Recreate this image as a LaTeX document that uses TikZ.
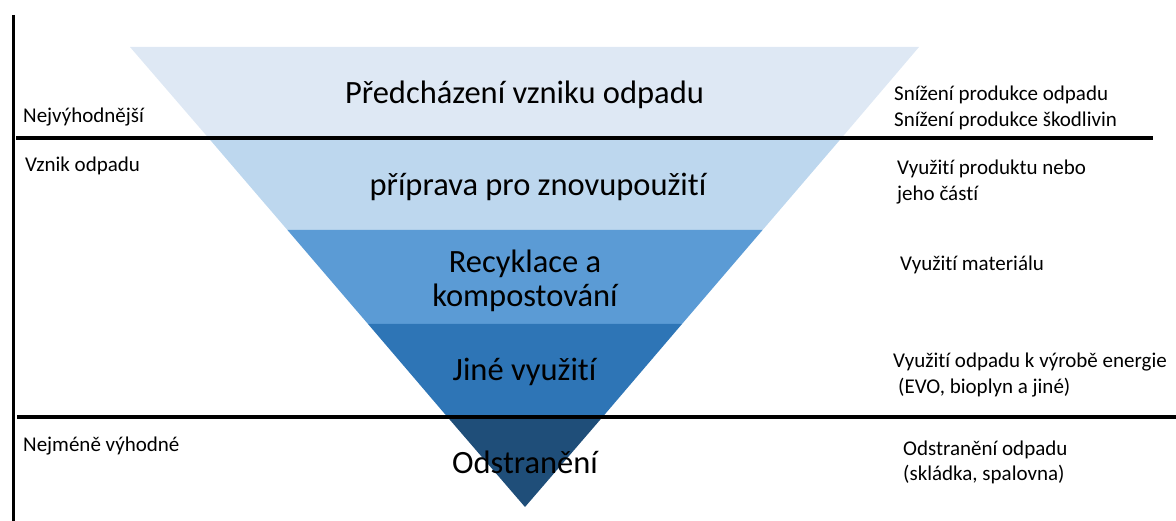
\documentclass[tikz,border=0pt]{standalone}
\usepackage{fontspec}
\setmainfont{Carlito}[Ligatures={NoCommon}]
\definecolor{bandA}{HTML}{DEE8F4}
\definecolor{bandB}{HTML}{BDD7EE}
\definecolor{bandC}{HTML}{5B9BD5}
\definecolor{bandD}{HTML}{2E75B6}
\definecolor{bandE}{HTML}{1F4E79}
\begin{document}
\begin{tikzpicture}[x=1pt,y=-1pt,
  mainlabel/.style={font=\fontsize{32.5}{36}\selectfont, align=center, inner sep=0pt},
  sidelabel/.style={font=\fontsize{21}{25.5}\selectfont, align=left, anchor=base west, inner sep=0pt},
  rule/.style={black, line width=4pt}]
\useasboundingbox (0,0) rectangle (1176,521);
% triangle corner coordinates
\coordinate (tl) at (130,47);   \coordinate (tr) at (919,47);
\coordinate (l1) at (208.5,138); \coordinate (r1) at (841.5,138);
\coordinate (l2) at (287.4,230); \coordinate (r2) at (762.6,230);
\coordinate (l3) at (368,324);   \coordinate (r3) at (682,324);
\coordinate (l4) at (447,416.5); \coordinate (r4) at (603,416.5);
\coordinate (apex) at (525,507);
\fill[bandA] (tl) -- (tr) -- (r1) -- (l1) -- cycle;
\fill[bandB] (l1) -- (r1) -- (r2) -- (l2) -- cycle;
\fill[bandC] (l2) -- (r2) -- (r3) -- (l3) -- cycle;
\fill[bandD] (l3) -- (r3) -- (r4) -- (l4) -- cycle;
\fill[bandE] (l4) -- (r4) -- (apex) -- cycle;
% rules
\coordinate (vtop) at (13,15); \coordinate (vbot) at (13,521);
\coordinate (h1a) at (16,138); \coordinate (h1b) at (1153,138);
\coordinate (h2a) at (17,416.5); \coordinate (h2b) at (1176,416.5);
\draw[black, line width=3pt] (vtop) -- (vbot);
\draw[rule] (h1a) -- (h1b);
\draw[rule] (h2a) -- (h2b);
% main labels
\node[mainlabel, anchor=base] (m1) at (524.5,104) {Předcházení vzniku odpadu};
\node[mainlabel, anchor=base] (m2) at (538,196) {příprava pro znovupoužití};
\node[mainlabel, anchor=base] (m3a) at (525,272.5) {Recyklace a};
\node[mainlabel, anchor=base] (m3b) at (525,307) {kompostování};
\node[mainlabel, anchor=base] (m4) at (524.5,380.5) {Jiné využití};
\node[mainlabel, anchor=base] (m5) at (525,473.5) {Odstranění};
% left labels
\node[sidelabel] (a1) at (23,123) {Nejvýhodnější};
\node[sidelabel] (a2) at (25,172) {Vznik odpadu};
\node[sidelabel] (a3) at (23,451) {Nejméně výhodné};
% right labels
\node[sidelabel] (b1) at (894,101) {Snížení produkce odpadu};
\node[sidelabel] (b1b) at (894,127) {Snížení produkce škodlivin};
\node[sidelabel] (b2) at (897,175) {Využití produktu nebo};
\node[sidelabel] (b2b) at (897,200.5) {jeho částí};
\node[sidelabel] (b3) at (900,271) {Využití materiálu};
\node[sidelabel] (b4) at (893,367) {Využití odpadu k výrobě energie};
\node[sidelabel] (b4b) at (898,393) {(EVO, bioplyn a jiné)};
\node[sidelabel] (b5) at (903,455) {Odstranění odpadu};
\node[sidelabel] (b5b) at (903,480.5) {(skládka, spalovna)};
\end{tikzpicture}
\end{document}
